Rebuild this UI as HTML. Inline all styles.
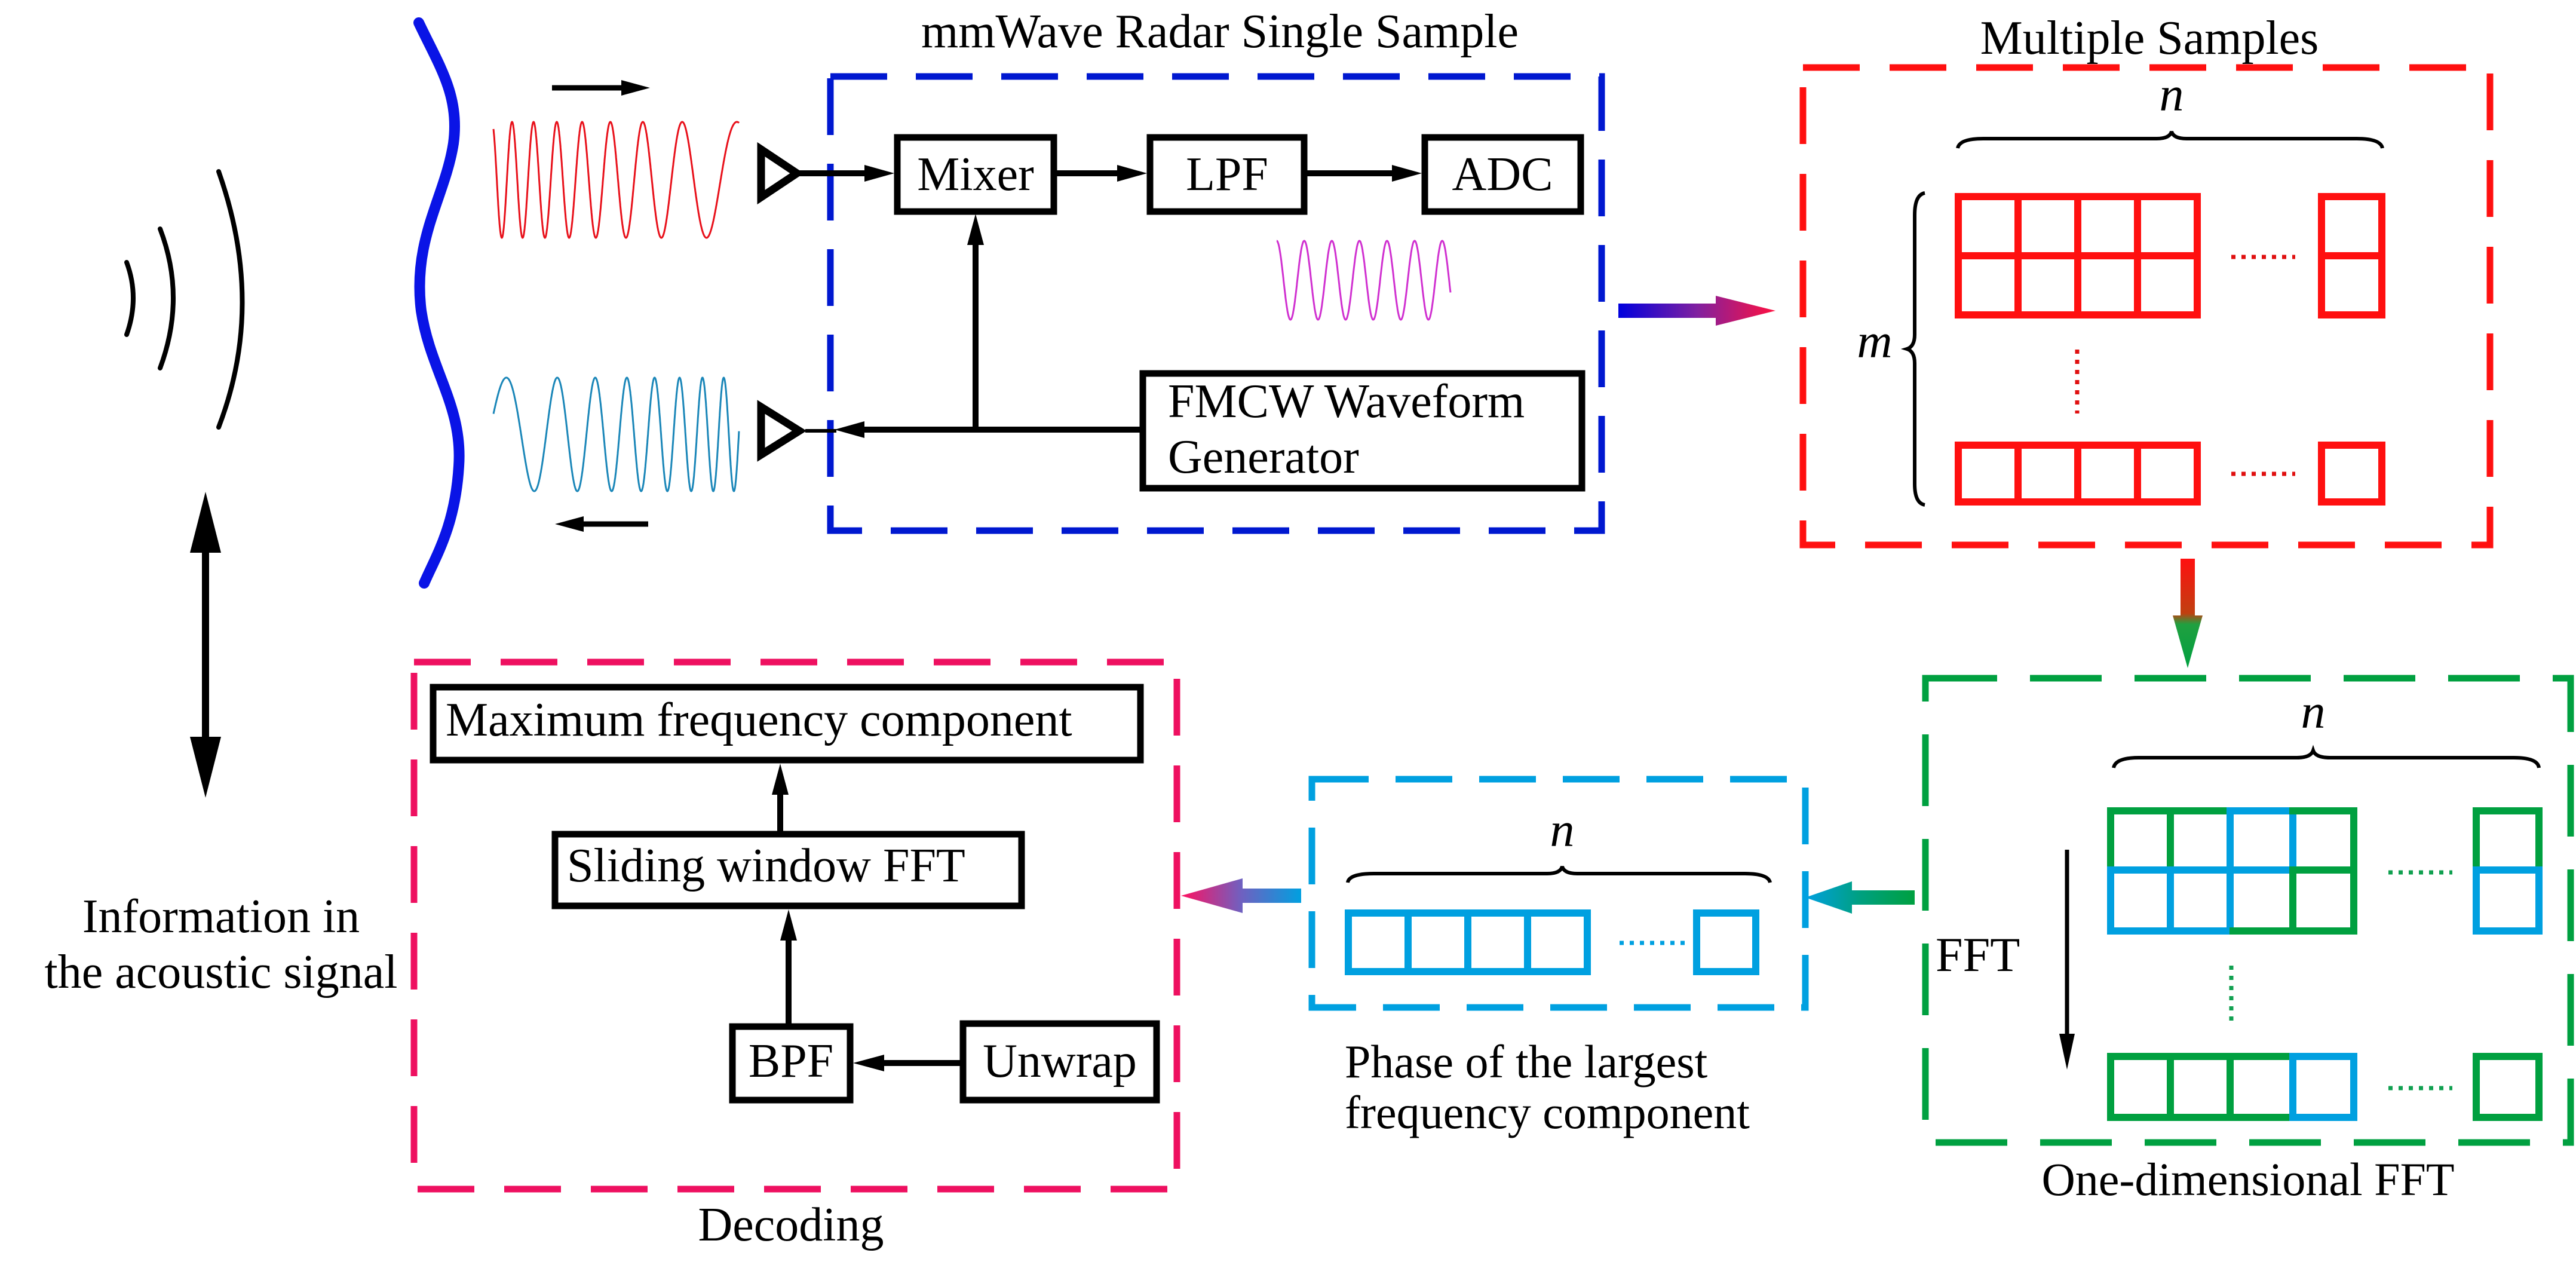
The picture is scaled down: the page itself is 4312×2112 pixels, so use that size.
<!DOCTYPE html>
<html><head><meta charset="utf-8"><style>html,body{margin:0;padding:0;background:#fff}svg{display:block}text{font-family:"Liberation Serif","Times New Roman","DejaVu Serif",serif !important}</style></head>
<body>
<svg id="s" width="4312" height="2112" viewBox="0 0 4312 2112" xmlns="http://www.w3.org/2000/svg">
<defs>
<linearGradient id="gBR" x1="0" x2="1" y1="0" y2="0"><stop offset="0" stop-color="#0000dd"/><stop offset="0.5" stop-color="#8020a0"/><stop offset="1" stop-color="#ff1040"/></linearGradient>
<linearGradient id="gRG" x1="0" x2="0" y1="0" y2="1"><stop offset="0" stop-color="#ff1010"/><stop offset="0.5" stop-color="#c04010"/><stop offset="0.6" stop-color="#20a040"/><stop offset="1" stop-color="#00a040"/></linearGradient>
<linearGradient id="gGC" x1="1" x2="0" y1="0" y2="0"><stop offset="0" stop-color="#00a040"/><stop offset="0.5" stop-color="#00a080"/><stop offset="1" stop-color="#00a0e0"/></linearGradient>
<linearGradient id="gCP" x1="1" x2="0" y1="0" y2="0"><stop offset="0" stop-color="#00a0e0"/><stop offset="0.5" stop-color="#7060c0"/><stop offset="1" stop-color="#ff1060"/></linearGradient>
</defs>

<g fill="none" stroke="#000" stroke-width="8" stroke-linecap="round">
<path d="M366,287 Q445,510 366,715"/>
<path d="M268,383 Q312,498 268,616"/>
<path d="M212,439 Q234,498 212,560"/>
</g>
<line x1="344" y1="900" x2="344" y2="1250" stroke="#000" stroke-width="12"/>
<polygon points="344,823 318,925 370,925" fill="#000"/>
<polygon points="344,1335 318,1233 370,1233" fill="#000"/>

<path d="M701,38 C735,110 770,160 759,240 C745,330 690,400 705,520 C720,620 775,680 768,780 C762,880 730,930 710,976" fill="none" stroke="#0a14e6" stroke-width="18" stroke-linecap="round"/>

<path id="red" fill="none" stroke="#e8101a" stroke-width="3"/>
<path id="teal" fill="none" stroke="#1a86b8" stroke-width="3"/>
<path id="mag" fill="none" stroke="#d030d0" stroke-width="3"/>

<line x1="924" y1="147" x2="1050" y2="147" stroke="#000" stroke-width="9"/>
<polygon points="1088,147 1040,134 1040,160" fill="#000"/>
<line x1="966" y1="877" x2="1085" y2="877" stroke="#000" stroke-width="9"/>
<polygon points="929,877 977,864 977,890" fill="#000"/>

<polygon points="1274,250 1274,330 1334,290" fill="none" stroke="#000" stroke-width="13" stroke-linejoin="miter"/>
<polygon points="1274,681 1274,761 1338,721" fill="none" stroke="#000" stroke-width="13"/>

<rect x="1390" y="128" width="1291" height="760" fill="none" stroke="#0018d0" stroke-width="11" stroke-dasharray="95,48"/>
<g fill="#fff" stroke="#000" stroke-width="11">
<rect x="1502" y="230" width="262" height="124"/>
<rect x="1925" y="230" width="258" height="124"/>
<rect x="2385" y="230" width="261" height="124"/>
<rect x="1913" y="625" width="735" height="192"/>
</g>
<g stroke="#000" stroke-width="10">
<line x1="1334" y1="290" x2="1460" y2="290"/>
<line x1="1764" y1="290" x2="1880" y2="290"/>
<line x1="2183" y1="290" x2="2340" y2="290"/>
<line x1="1913" y1="719" x2="1430" y2="719"/>
<line x1="1633" y1="719" x2="1633" y2="400"/>
<line x1="1348" y1="721" x2="1400" y2="721" stroke-width="6"/>
</g>
<g fill="#000">
<polygon points="1497,290 1447,276 1447,304"/>
<polygon points="1920,290 1870,276 1870,304"/>
<polygon points="2380,290 2330,276 2330,304"/>
<polygon points="1397,719 1447,705 1447,733"/>
<polygon points="1633,358 1619,410 1647,410"/>
</g>

<polygon points="2709,508 2872,508 2872,495 2972,520 2872,545 2872,532 2709,532" fill="url(#gBR)"/>

<rect x="3018" y="113" width="1150" height="799" fill="none" stroke="#ff1010" stroke-width="11" stroke-dasharray="95,50"/>
<path d="M3277,248 Q3280,232 3320,232 L3610,232 Q3632,232 3635,220 Q3638,232 3660,232 L3945,232 Q3985,232 3988,248" fill="none" stroke="#000" stroke-width="6"/>
<path d="M3222,323 Q3205,326 3205,360 L3205,560 Q3205,580 3192,584 Q3205,588 3205,608 L3205,810 Q3205,842 3222,845" fill="none" stroke="#000" stroke-width="6"/>
<g fill="none" stroke="#ff1010" stroke-width="12">
<rect x="3278" y="329" width="400" height="198"/>
<line x1="3278" y1="428" x2="3678" y2="428"/>
<line x1="3378" y1="329" x2="3378" y2="527"/>
<line x1="3478" y1="329" x2="3478" y2="527"/>
<line x1="3578" y1="329" x2="3578" y2="527"/>
<rect x="3886" y="329" width="101" height="198"/>
<line x1="3886" y1="428" x2="3987" y2="428"/>
<rect x="3278" y="745" width="400" height="95"/>
<line x1="3378" y1="745" x2="3378" y2="840"/>
<line x1="3478" y1="745" x2="3478" y2="840"/>
<line x1="3578" y1="745" x2="3578" y2="840"/>
<rect x="3886" y="745" width="101" height="95"/>
</g>
<g stroke="#e01010" stroke-width="7" stroke-dasharray="7,10">
<line x1="3735" y1="430" x2="3842" y2="430"/>
<line x1="3735" y1="793" x2="3842" y2="793"/>
<line x1="3477" y1="585" x2="3477" y2="692"/>
</g>

<polygon points="3650,935 3674,935 3674,1030 3687,1030 3662,1118 3637,1030 3650,1030" fill="url(#gRG)"/>

<rect x="3223" y="1135" width="1080" height="777" fill="none" stroke="#00a040" stroke-width="11" stroke-dasharray="120,55"/>
<path d="M3538,1285 Q3541,1268 3580,1268 L3845,1268 Q3868,1268 3872,1256 Q3876,1268 3900,1268 L4208,1268 Q4248,1268 4250,1285" fill="none" stroke="#000" stroke-width="6"/>
<g fill="none" stroke-width="12" stroke-linecap="square">
<path d="M3533,1456 V1357 H3633 V1456" stroke="#00a040"/>
<path d="M3633,1357 H3733 M3633,1357 V1456" stroke="#00a040"/>
<path d="M3733,1456 V1357 H3838 V1456" stroke="#00a0e0"/>
<path d="M3838,1357 H3940 V1456" stroke="#00a040"/>
<path d="M3533,1456 H3838 M3533,1456 V1558 H3738 M3633,1456 V1558 M3733,1456 V1558" stroke="#00a0e0"/>
<path d="M3838,1456 H3940 V1558 H3738 M3838,1456 V1558" stroke="#00a040"/>
<path d="M4145,1456 V1357 H4250 V1456" stroke="#00a040"/>
<rect x="4145" y="1456" width="105" height="102" stroke="#00a0e0"/>
<path d="M3838,1768 H3533 V1870 H3838 M3633,1768 V1870 M3733,1768 V1870" stroke="#00a040"/>
<rect x="3838" y="1768" width="102" height="102" stroke="#00a0e0"/>
<rect x="4145" y="1768" width="105" height="102" stroke="#00a040"/>
</g>
<g stroke="#10a050" stroke-width="7" stroke-dasharray="7,10">
<line x1="3998" y1="1460" x2="4105" y2="1460"/>
<line x1="3998" y1="1821" x2="4105" y2="1821"/>
<line x1="3735" y1="1616" x2="3735" y2="1718"/>
</g>
<line x1="3460" y1="1422" x2="3460" y2="1740" stroke="#000" stroke-width="7"/>
<polygon points="3460,1790 3447,1730 3473,1730" fill="#000"/>

<polygon points="3205,1490 3100,1490 3100,1475 3022,1502 3100,1529 3100,1514 3205,1514" fill="url(#gGC)"/>

<rect x="2196" y="1304" width="826" height="382" fill="none" stroke="#00a0e0" stroke-width="11" stroke-dasharray="95,45"/>
<path d="M2256,1477 Q2258,1462 2300,1462 L2590,1462 Q2612,1462 2615,1450 Q2618,1462 2640,1462 L2920,1462 Q2960,1462 2963,1477" fill="none" stroke="#000" stroke-width="6"/>
<g fill="none" stroke="#00a0e0" stroke-width="12">
<rect x="2257" y="1528" width="400" height="98"/>
<line x1="2357" y1="1528" x2="2357" y2="1626"/>
<line x1="2457" y1="1528" x2="2457" y2="1626"/>
<line x1="2557" y1="1528" x2="2557" y2="1626"/>
<rect x="2840" y="1528" width="99" height="98"/>
</g>
<line x1="2711" y1="1578" x2="2820" y2="1578" stroke="#00a0e0" stroke-width="7" stroke-dasharray="7,10"/>

<polygon points="2178,1487 2080,1487 2080,1470 1977,1499 2080,1528 2080,1511 2178,1511" fill="url(#gCP)"/>

<rect x="693" y="1108" width="1277" height="882" fill="none" stroke="#ee1060" stroke-width="11" stroke-dasharray="95,50"/>
<g fill="#fff" stroke="#000" stroke-width="11">
<rect x="725" y="1150" width="1184" height="122"/>
<rect x="929" y="1396" width="781" height="120"/>
<rect x="1226" y="1718" width="197" height="123"/>
<rect x="1612" y="1713" width="324" height="128"/>
</g>
<g stroke="#000" stroke-width="10">
<line x1="1306" y1="1391" x2="1306" y2="1320"/>
<line x1="1320" y1="1713" x2="1320" y2="1560"/>
<line x1="1607" y1="1779" x2="1470" y2="1779"/>
</g>
<g fill="#000">
<polygon points="1306,1278 1292,1330 1320,1330"/>
<polygon points="1320,1522 1306,1574 1334,1574"/>
<polygon points="1428,1779 1480,1765 1480,1793"/>
</g>

<g font-family="Liberation Serif, serif" font-size="80" fill="#000">
<text x="370" y="1560" text-anchor="middle">Information in</text>
<text x="370" y="1653" text-anchor="middle">the acoustic signal</text>
<text x="2042" y="79" text-anchor="middle">mmWave Radar Single Sample</text>
<text x="1633" y="318" text-anchor="middle">Mixer</text>
<text x="2054" y="318" text-anchor="middle">LPF</text>
<text x="2515" y="318" text-anchor="middle">ADC</text>
<text x="1955" y="698">FMCW Waveform</text>
<text x="1955" y="791">Generator</text>
<text x="3598" y="90" text-anchor="middle">Multiple Samples</text>
<text x="3635" y="185" font-size="82" font-style="italic" text-anchor="middle">n</text>
<text x="3138" y="598" font-size="82" font-style="italic" text-anchor="middle">m</text>
<text x="3872" y="1218" font-size="82" font-style="italic" text-anchor="middle">n</text>
<text x="3240" y="1625" font-size="82">FFT</text>
<text x="3763" y="2000" font-size="78" text-anchor="middle">One-dimensional FFT</text>
<text x="2615" y="1416" font-size="82" font-style="italic" text-anchor="middle">n</text>
<text x="2251" y="1803" font-size="78">Phase of the largest</text>
<text x="2251" y="1888" font-size="78">frequency component</text>
<text x="746" y="1231">Maximum frequency component</text>
<text x="949" y="1475">Sliding window FFT</text>
<text x="1324" y="1802" text-anchor="middle">BPF</text>
<text x="1774" y="1802" text-anchor="middle">Unwrap</text>
<text x="1324" y="2076" text-anchor="middle">Decoding</text>
</g>

<script>
function chirp(id,x0,x1,cy,amp,f0,f1,ph){
 var d='',N=1500;
 for(var i=0;i<=N;i++){var u=i/N;
  var ph2=ph+2*Math.PI*(f0*u+(f1-f0)*u*u/2);
  var x=x0+(x1-x0)*u,y=cy-amp*Math.cos(ph2);
  d+=(i?'L':'M')+x.toFixed(1)+','+y.toFixed(1);}
 document.getElementById(id).setAttribute('d',d);}
chirp('red',826,1237,301,97,12.5,3.4,0.5);
chirp('teal',826,1237,727,95,3.4,12.5,-1.2);
chirp('mag',2137,2428,469,66,6.3,6.3,0);
</script>
</svg>
</body></html>
